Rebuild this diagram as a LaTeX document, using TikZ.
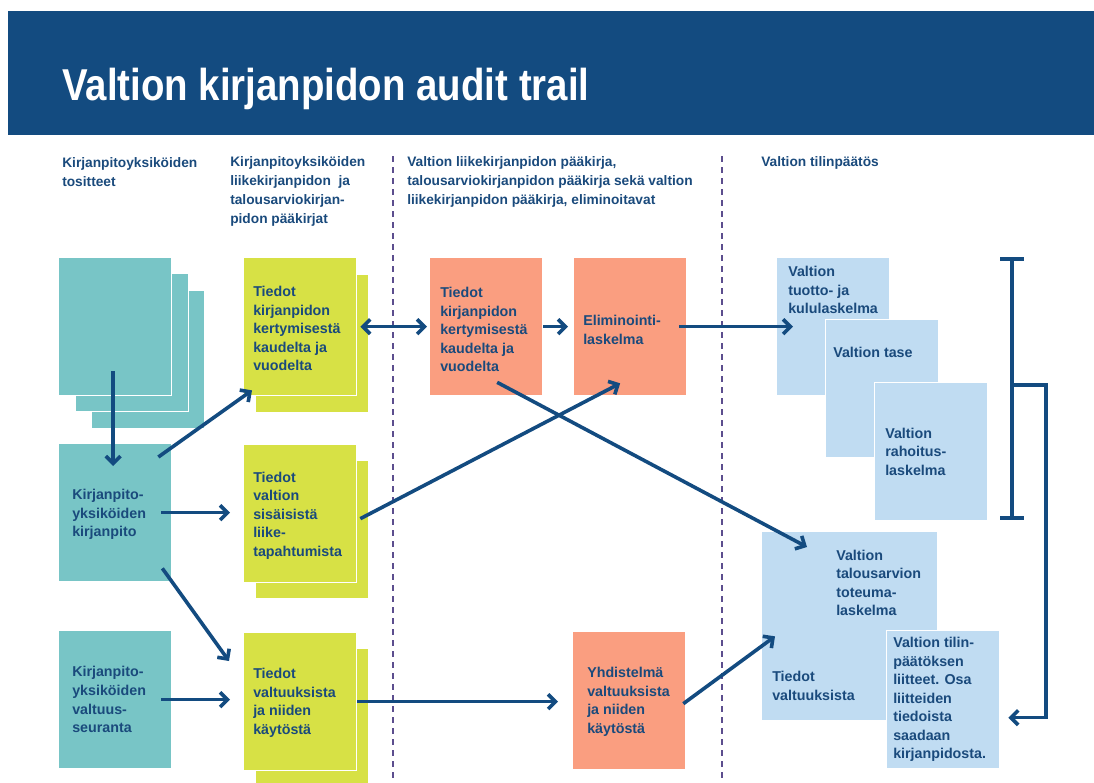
\documentclass[tikz,border=0pt]{standalone}
\usepackage{fontspec}
\setmainfont{Liberation Sans}
\newfontfamily\titlefont[FakeStretch=0.86]{Liberation Sans}
\usetikzlibrary{positioning,calc,arrows.meta}

\definecolor{hdrblue}{HTML}{134B80}
\definecolor{txtblue}{HTML}{1A4A7C}
\definecolor{tealbox}{HTML}{78C5C6}
\definecolor{yelbox}{HTML}{D7E145}
\definecolor{orabox}{HTML}{FA9E80}
\definecolor{blubox}{HTML}{C0DCF2}
\definecolor{dashpurple}{HTML}{5C4E8E}

\begin{document}
\begin{tikzpicture}[x=0.75pt,y=-0.75pt]
		\tikzset{box/.style={rectangle, draw=white, line width=1pt, anchor=north west, inner sep=0, minimum width=84.75pt, minimum height=103.5pt},
			tbox/.style={box, fill=tealbox},
			ybox/.style={box, fill=yelbox},
			obox/.style={box, fill=orabox},
			bbox/.style={box, fill=blubox},
			txt/.style={text=txtblue, font=\bfseries\fontsize{10.7}{13.9}\selectfont, align=left, inner sep=0, anchor=west},
			head/.style={text=txtblue, font=\bfseries\fontsize{10.3}{14.25}\selectfont, align=left, inner sep=0, anchor=west},
			arr/.style={draw=hdrblue, line width=2.7pt, -{Straight Barb[length=5.5pt,width=11pt]}},
			dashline/.style={draw=dashpurple, line width=1.5pt, dash pattern=on 4.5pt off 3.75pt}}
		\useasboundingbox (0,0) rectangle (1094,782);
		% otsikko
		\fill[hdrblue] (8,11) rectangle (1094,135);
		\node[anchor=base west, inner sep=0, text=white, font=\titlefont\bfseries\fontsize{33.5}{40}\selectfont] (title) at (62,100) {Valtion kirjanpidon audit trail};
		% sarakkeiden otsikot
		\node[head] (h1) at (62,172) {Kirjanpitoyksiköiden\\tositteet};
		\node[head] (h2) at (230,191) {Kirjanpitoyksiköiden\\liikekirjanpidon\ \ ja\\talousarviokirjan-\\pidon pääkirjat};
		\node[head] (h3) at (407,182) {Valtion liikekirjanpidon pääkirja,\\talousarviokirjanpidon pääkirja sekä valtion\\liikekirjanpidon pääkirja, eliminoitavat};
		\node[head] (h4) at (761,163) {Valtion tilinpäätös};
		\draw[dashline] (393,156) -- (393,778);
		\draw[dashline] (722,156) -- (722,778);
		% kirjanpitoyksiköt
		\node[tbox] (tos3) at (91,290) {};
		\node[tbox] (tos2) at (75,273) {};
		\node[tbox] (tos1) at (58,257) {};
		\node[tbox] (kirj) at (58,443) {};
		\node[txt] (t-kirj) at ($(kirj.west)+(14,2)$) {Kirjanpito-\\yksiköiden\\kirjanpito};
		\node[tbox] (valt) at (58,630) {};
		\node[txt] (t-valt) at ($(valt.west)+(14,0)$) {Kirjanpito-\\yksiköiden\\valtuus-\\seuranta};
		% pääkirjat
		\node[ybox] (yel1b) at (255,274) {};
		\node[ybox] (yel1) at (243,257) {};
		\node[txt] (t-yel1) at ($(yel1.west)+(10,2)$) {Tiedot\\kirjanpidon\\kertymisestä\\kaudelta ja\\vuodelta};
		\node[ybox] (yel2b) at (255,460) {};
		\node[ybox] (yel2) at (243,444) {};
		\node[txt] (t-yel2) at ($(yel2.west)+(10,2)$) {Tiedot\\valtion\\sisäisistä\\liike-\\tapahtumista};
		\node[ybox] (yel3b) at (255,648) {};
		\node[ybox] (yel3) at (243,632) {};
		\node[txt] (t-yel3) at ($(yel3.west)+(10,1)$) {Tiedot\\valtuuksista\\ja niiden\\käytöstä};
		% valtion pääkirja
		\node[obox] (oraA) at (429,257) {};
		\node[txt] (t-oraA) at ($(oraA.west)+(11,3)$) {Tiedot\\kirjanpidon\\kertymisestä\\kaudelta ja\\vuodelta};
		\node[obox] (oraB) at (573,257) {};
		\node[txt] (t-oraB) at ($(oraB.west)+(10,3)$) {Eliminointi-\\laskelma};
		\node[obox] (oraC) at (572,631) {};
		\node[txt] (t-oraC) at ($(oraC.west)+(15,1)$) {Yhdistelmä\\valtuuksista\\ja niiden\\käytöstä};
		% tilinpäätös
		\node[bbox] (blu1) at (776,257) {};
		\node[txt] (t-blu1) at (788,290) {Valtion\\tuotto- ja\\kululaskelma};
		\node[bbox] (blu2) at (825,319) {};
		\node[txt] (t-blu2) at (833,352) {Valtion tase};
		\node[bbox] (blu3) at (874,382) {};
		\node[txt] (t-blu3) at ($(blu3.west)+(11,0)$) {Valtion\\rahoitus-\\laskelma};
		\node[bbox, minimum width=132pt, minimum height=141.75pt] (blu4) at (761,531) {};
		\node[txt] (t-blu4a) at (836,583) {Valtion\\talousarvion\\toteuma-\\laskelma};
		\node[txt] (t-blu4b) at (772,686) {Tiedot\\valtuuksista};
		\node[bbox] (blu5) at (886,630) {};
		\node[txt] (t-blu5) at ($(blu5.west)+(7,0)$) {Valtion tilin-\\päätöksen\\liitteet. Osa\\liitteiden\\tiedoista\\saadaan\\kirjanpidosta.};
		% nuolet
		\coordinate (in2) at ($(yel2.west)+(-13,0)$);
		\coordinate (in3) at ($(yel3.west)+(-13,0)$);
		\coordinate (inC) at ($(oraC.west)+(-14,0)$);
		\draw[arr] ($(tos1.south)+(-2,-25)$) -- ($(kirj.north)+(-2,23)$);
		\draw[arr] ($(kirj.north east)+(-14,14)$) -- ($(yel1.south west)+(9,-6)$);
		\draw[arr] ($(kirj.east)+(-11,0)$) -- (in2 |- kirj.east);
		\draw[arr] ($(kirj.south east)+(-10,-14)$) -- ($(yel3.north west)+(-14,29)$);
		\draw[arr] ($(valt.east)+(-11,0)$) -- (in3 |- valt.east);
		\draw[arr, {Straight Barb[length=5.5pt,width=11pt]}-{Straight Barb[length=5.5pt,width=11pt]}] ($(yel1.east)+(3,0)$) -- ($(oraA.west)+(-2,0)$);
		\draw[arr] (oraA.east) -- ($(oraB.west)+(-5,0)$);
		\draw[arr] ($(oraB.east)+(-8,0)$) -- ($(blu1.west)+(17,0)$);
		\draw[arr] ($(yel2.east)+(3,5)$) -- ($(oraB.south)+(-10,-13)$);
		\draw[arr] ($(oraA.south)+(11,-14)$) -- ($(blu4.north west)+(46,16)$);
		\draw[arr] (yel3.east) -- (inC |- yel3.east);
		\draw[arr] ($(oraC.east)+(-3,3)$) -- ($(blu4.south west)+(14,-85)$);
		% hakasulku
		\coordinate (brtop) at (1012,259);
		\coordinate (brbot) at (1012,518);
		\coordinate (brmid) at (1012,385);
		\draw[hdrblue, line width=2.7pt] (brtop) -- (brbot);
		\draw[hdrblue, line width=2.7pt] ($(brtop)+(-12,0)$) -- ($(brtop)+(12,0)$);
		\draw[hdrblue, line width=2.7pt] ($(brbot)+(-12,0)$) -- ($(brbot)+(12,0)$);
		\draw[arr] (brmid) -- ($(brmid)+(34,0)$) |- ($(blu5.east)+(8,18)$);
	\end{tikzpicture}
\end{document}
